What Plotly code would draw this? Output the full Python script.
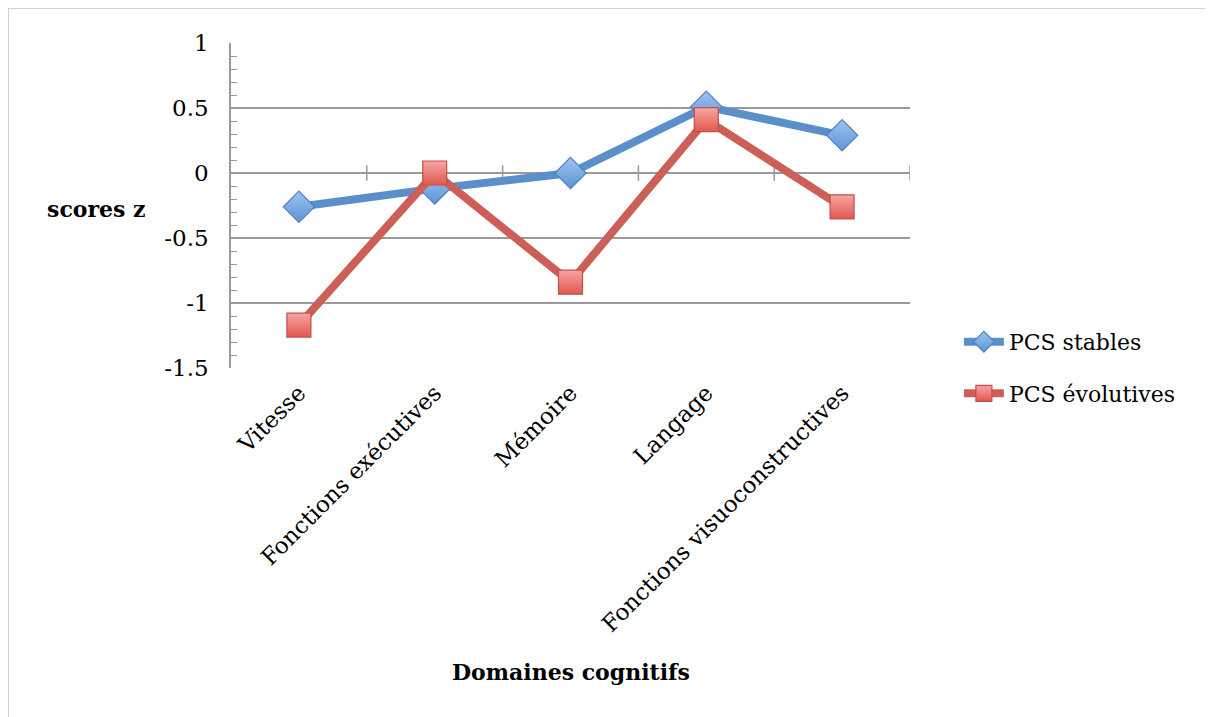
import plotly.graph_objects as go

categories = ["Vitesse", "Fonctions exécutives", "Mémoire", "Langage", "Fonctions visuoconstructives"]
pcs_stables = [-0.26, -0.12, 0.0, 0.51, 0.29]
pcs_evolutives = [-1.17, 0.0, -0.84, 0.41, -0.26]
y_ticks = [1, 0.5, 0, -0.5, -1, -1.5]

FONT = "DejaVu Serif"
GRID = "#9a9a9a"

fig = go.Figure()
fig.add_trace(go.Scatter(
    x=list(range(len(categories))), y=pcs_stables, name="PCS stables",
    mode="lines+markers", legendgroup="a",
    line=dict(color="#5A8FC9", width=8),
    marker=dict(symbol="diamond", size=24, color="#9CC3F0",
                gradient=dict(type="vertical", color="#5E95D6"),
                line=dict(color="#4F81BD", width=1.2)),
))
fig.add_trace(go.Scatter(
    x=list(range(len(categories))), y=pcs_evolutives, name="PCS évolutives",
    mode="lines+markers", legendgroup="b",
    line=dict(color="#CC5F58", width=8),
    marker=dict(symbol="square", size=24, color="#F6A5A2",
                gradient=dict(type="vertical", color="#E2574F"),
                line=dict(color="#C0504D", width=1.2)),
))

# category boundary tick marks crossing the zero line (Excel style)
for i in range(len(categories)):
    fig.add_shape(type="line", xref="x", yref="y", x0=i + 0.5, x1=i + 0.5,
                  y0=-0.06, y1=0.06, line=dict(color=GRID, width=1.5), layer="below")

# outer frame
fig.add_shape(type="line", xref="paper", yref="paper", x0=-0.3284, x1=1.6, y0=1.1077, y1=1.1077,
              line=dict(color="#c4c4c4", width=1.5))
fig.add_shape(type="line", xref="paper", yref="paper", x0=-0.3284, x1=-0.3284, y0=1.1077, y1=-1.2,
              line=dict(color="#c4c4c4", width=1.5))

fig.add_annotation(text="<b>scores z</b>", xref="paper", yref="paper", x=-0.122, y=0.49,
                   xanchor="right", yanchor="middle", showarrow=False,
                   font=dict(family=FONT, size=22, color="black"))
fig.add_annotation(text="<b>Domaines cognitifs</b>", xref="paper", yref="paper", x=0.5, y=-0.935,
                   xanchor="center", yanchor="middle", showarrow=False,
                   font=dict(family=FONT, size=22, color="black"))

fig.update_layout(
    width=1213, height=717,
    margin=dict(l=223, r=311, t=35, b=357),
    paper_bgcolor="white", plot_bgcolor="white",
    font=dict(family=FONT, size=22, color="black"),
    showlegend=True,
    legend=dict(x=1.072, y=0.145, xanchor="left", yanchor="top",
                traceorder="grouped", tracegroupgap=20,
                font=dict(family=FONT, size=22, color="black"),
                itemwidth=40),
    xaxis=dict(
        range=[-0.5, len(categories) - 0.5],
        tickmode="array", tickvals=list(range(len(categories))), ticktext=categories,
        tickangle=-45, showgrid=False, zeroline=False, showline=False, ticks="",
        ticklabelstandoff=6, tickfont=dict(family=FONT, size=23),
    ),
    yaxis=dict(
        range=[-1.5, 1], tickmode="array", tickvals=y_ticks,
        ticktext=[str(v) for v in y_ticks],
        showgrid=True, gridcolor=GRID, gridwidth=1.5,
        zeroline=True, zerolinecolor=GRID, zerolinewidth=1.5,
        showline=True, linecolor=GRID, linewidth=1.5,
        ticks="inside", ticklen=6, tickcolor=GRID,
        minor=dict(dtick=0.1, ticks="inside", ticklen=6, tickcolor=GRID, showgrid=False),
        ticklabelstandoff=16, tickfont=dict(family=FONT, size=23),
    ),
)

fig.write_html("out.html")
